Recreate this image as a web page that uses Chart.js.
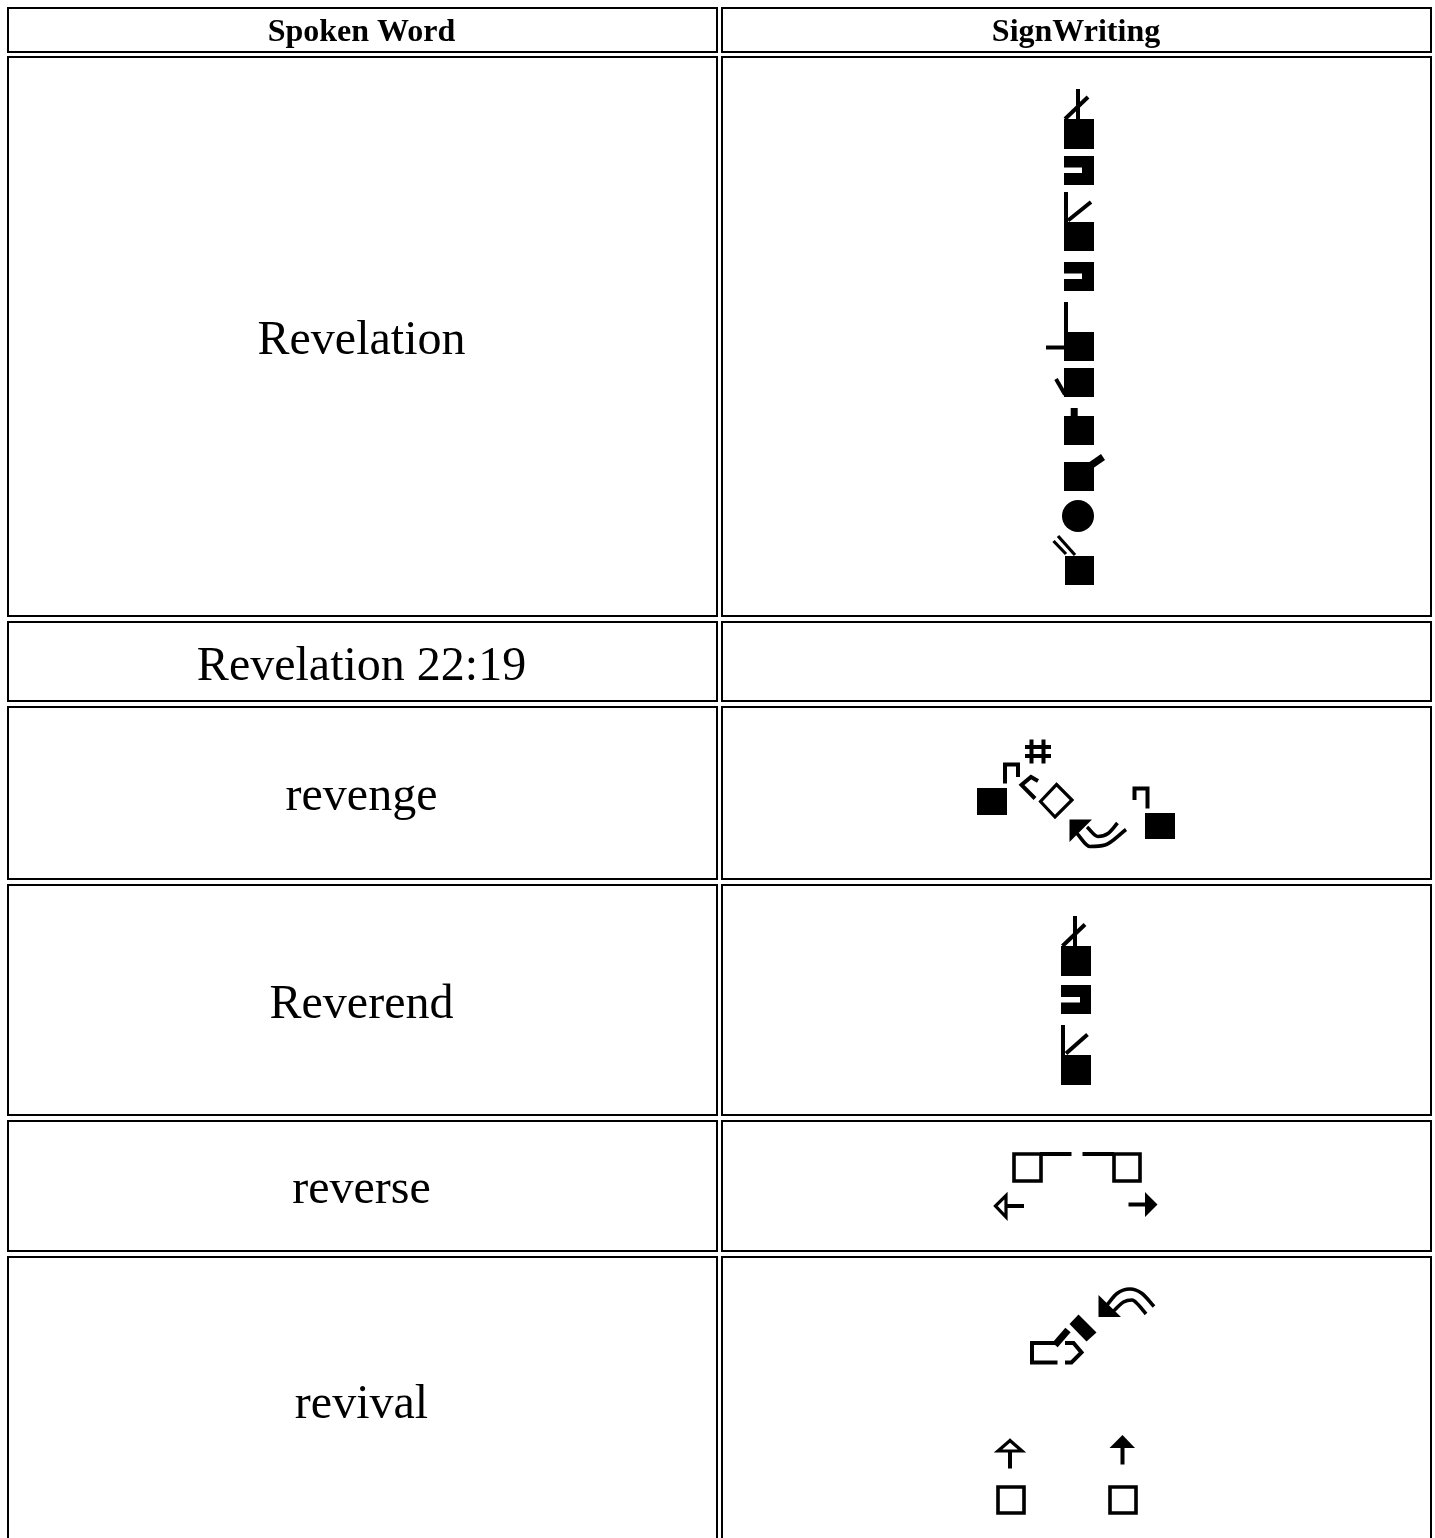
<!DOCTYPE html>
<html>
<head>
<meta charset="utf-8">
<title>SignWriting</title>
<style>
  html, body { margin: 0; padding: 0; background: #fff; overflow: hidden; }
  canvas { display: block; }
</style>
</head>
<body>
<canvas id="signChart" width="1435" height="1538"></canvas>
<script src="https://cdn.jsdelivr.net/npm/chart.js@4/dist/chart.umd.min.js"></script>
<script>
// table layout, in axis units
const colLefts = [8, 722];
const colRights = [717, 1431];
const colCenters = [361.5, 1076];
const rowTops = [8, 57, 622, 707, 885, 1121, 1257];
const rowBottoms = [52, 616, 701, 879, 1115, 1251, 1600];

const headers = ['Spoken Word', 'SignWriting'];
const words = ['Revelation', 'Revelation 22:19', 'revenge', 'Reverend', 'reverse', 'revival'];
const wordBaselines = [354, 680, 810, 1018, 1203, 1418];

// sign glyph parts
const solidBoxes = [
  [1064, 119, 1094, 149], [1064, 222, 1094, 251], [1064, 332, 1094, 361],
  [1064, 368, 1094, 397], [1064, 416, 1094, 445], [1064, 462, 1094, 491],
  [1065, 556, 1094, 585],
  [977, 788, 1007, 815], [1145, 813, 1175, 839],
  [1061, 946, 1091, 976], [1061, 1055, 1091, 1085],
];
const hollowBoxes = [
  [1014, 1154, 1041, 1181], [1114, 1154, 1140, 1181],
  [998, 1487, 1024, 1513], [1110, 1487, 1136, 1513],
];
const solidShapes = [
  // notched hands
  [[1064, 156], [1094, 156], [1094, 185], [1064, 185], [1064, 173], [1082, 173], [1082, 167.5], [1064, 167.5]],
  [[1064, 262], [1094, 262], [1094, 291], [1064, 291], [1064, 279], [1082, 279], [1082, 273.5], [1064, 273.5]],
  [[1061, 985], [1091, 985], [1091, 1014], [1061, 1014], [1061, 1002.5], [1080, 1002.5], [1080, 997], [1061, 997]],
  // arrow heads
  [[1069.5, 819.5], [1092, 819.5], [1069.5, 842]],
  [[1157.5, 1204.5], [1145, 1192], [1145, 1217]],
  [[1098.5, 1295], [1098.5, 1317], [1121, 1317]],
  [[1122.5, 1435], [1135, 1448], [1109.5, 1448]],
  // tilted palm
  [[1078.5, 1314.5], [1096.5, 1332.5], [1086.5, 1341.5], [1069.5, 1324]],
];
const hollowShapes = [
  [[1056.5, 784.5], [1072, 800], [1055, 817], [1040.5, 801.5]],
  [[995.5, 1206], [1006, 1195.5], [1006, 1217]],
  [[1010, 1440.5], [1022, 1451], [998, 1451]],
];
const strokes = [
  // Revelation column
  [[1078, 89], [1078, 119]], [[1088, 97], [1065, 119]],
  [[1066, 192], [1066, 222]], [[1068, 220.5], [1091, 202]],
  [[1066, 302], [1066, 332]], [[1046, 347.5], [1064, 347.5]],
  [[1065, 394.5], [1056, 379]],
  // revenge
  [[1005, 783.5], [1005, 764.5], [1018, 764.5], [1018, 777]],
  [[1031.5, 739.5], [1031.5, 763.5]], [[1043.5, 739.5], [1043.5, 763.5]],
  [[1025, 747], [1051, 747]], [[1025, 756], [1051, 756]],
  [[1038, 781], [1031, 777], [1021.5, 785], [1035, 798.5]],
  [[1134.5, 800], [1134.5, 788.5], [1147.5, 788.5], [1147.5, 808.5]],
  // Reverend
  [[1075, 916], [1075, 946]], [[1085, 924.5], [1062.5, 946]],
  [[1063, 1025], [1063, 1055]], [[1066, 1053.5], [1087.5, 1034.5]],
  // reverse
  [[1040, 1154], [1071.5, 1154]], [[1082.5, 1154], [1114, 1154]],
  [[1006, 1206], [1024, 1206]], [[1128.5, 1204.5], [1145, 1204.5]],
  // revival
  [[1057.5, 1362.5], [1032, 1362.5], [1032, 1343], [1055, 1343]],
  [[1065, 1343], [1073.5, 1343], [1081.5, 1352.5], [1071.5, 1362.5], [1065, 1362.5]],
  [[1010, 1451.5], [1010, 1468.5]], [[1122.5, 1447], [1122.5, 1464.5]],
];
const thinStrokes = [
  [[1053.5, 541], [1066, 554]], [[1058, 536], [1075, 555]],
];
const wideStrokes = [
  [[1074.2, 408], [1074.2, 416]],
  [[1090, 466], [1103, 457]],
  [[1055, 1345], [1068, 1330]],
];
const movementArcs = [
  [[1087, 827], [1098, 836.5], [1108, 833.5], [1117.5, 823]],
  [[1077, 833.5], [1090, 846.5], [1105, 845], [1126, 829.5]],
  [[1107, 1305], [1117, 1293.5], [1130, 1289], [1142, 1293.5], [1154, 1306.5]],
  [[1113.5, 1311], [1123.5, 1302], [1132, 1300], [1138.5, 1305], [1146, 1314]],
];
const dots = [[1078, 516]];

const ink = '#000000';

function toPoints(list) {
  return list.map((p) => ({ x: p[0], y: p[1] }));
}

function boxPoints(b) {
  return [[b[0], b[1]], [b[2], b[1]], [b[2], b[3]], [b[0], b[3]], [b[0], b[1]]];
}

function solid(points) {
  return {
    data: toPoints(points), showLine: true, pointRadius: 0, borderWidth: 0,
    borderColor: 'rgba(0,0,0,0)', backgroundColor: ink, fill: 'shape',
  };
}

function line(points, width, extra) {
  return Object.assign({
    data: toPoints(points), showLine: true, pointRadius: 0, borderWidth: width,
    borderColor: ink, backgroundColor: ink, fill: false, borderCapStyle: 'butt', borderJoinStyle: 'miter',
  }, extra);
}

const datasets = [];

// table cell frames
rowTops.forEach((top, r) => {
  colLefts.forEach((left, c) => {
    datasets.push(line(boxPoints([left, top, colRights[c], rowBottoms[r]]), 2, { borderCapStyle: 'square' }));
  });
});
const frameCount = datasets.length;

solidBoxes.forEach((b) => datasets.push(solid(boxPoints(b))));
solidShapes.forEach((s) => datasets.push(solid(s)));
hollowBoxes.forEach((b) => datasets.push(line(boxPoints(b), 3.6, { borderCapStyle: 'square' })));
hollowShapes.forEach((s) => datasets.push(line(s.concat([s[0]]), 3.2, { borderCapStyle: 'square' })));
strokes.forEach((s) => datasets.push(line(s, 4)));
thinStrokes.forEach((s) => datasets.push(line(s, 3.2)));
wideStrokes.forEach((s) => datasets.push(line(s, 7)));
movementArcs.forEach((s) => datasets.push(line(s, 3.6, { tension: 0.4, cubicInterpolationMode: 'monotone' })));
datasets.push({ data: toPoints(dots), showLine: false, pointRadius: 16, pointBorderWidth: 0, pointBackgroundColor: ink });

// the signs are soft scaled images in the original, the frames are sharp.
// datasets draw last to first, so the blur is dropped before the frames
const softGlyphs = {
  id: 'softGlyphs',
  beforeDatasetsDraw(chart) {
    chart.ctx.filter = 'blur(0.5px)';
  },
  afterDatasetDraw(chart, args) {
    if (args.index === frameCount) chart.ctx.filter = 'none';
  },
};

const tableText = {
  id: 'tableText',
  afterDatasetsDraw(chart) {
    const { ctx, scales } = chart;
    ctx.save();
    ctx.fillStyle = ink;
    ctx.textAlign = 'center';
    ctx.textBaseline = 'alphabetic';
    ctx.font = 'bold 32px "Liberation Serif"';
    headers.forEach((h, c) => ctx.fillText(h, scales.x.getPixelForValue(colCenters[c]), scales.y.getPixelForValue(41)));
    ctx.font = '48px "Liberation Serif"';
    words.forEach((w, i) => ctx.fillText(w, scales.x.getPixelForValue(colCenters[0]), scales.y.getPixelForValue(wordBaselines[i])));
    ctx.restore();
  },
};

const chart = new Chart(document.getElementById('signChart').getContext('2d'), {
  type: 'scatter',
  data: { datasets },
  plugins: [softGlyphs, tableText],
  options: {
    responsive: false,
    animation: false,
    events: [],
    layout: { padding: 0, autoPadding: false },
    plugins: { legend: { display: false }, tooltip: { enabled: false } },
    scales: {
      x: { type: 'linear', display: false, min: 0, max: 1435 },
      y: { type: 'linear', display: false, min: 0, max: 1538, reverse: true },
    },
  },
});
</script>
</body>
</html>
